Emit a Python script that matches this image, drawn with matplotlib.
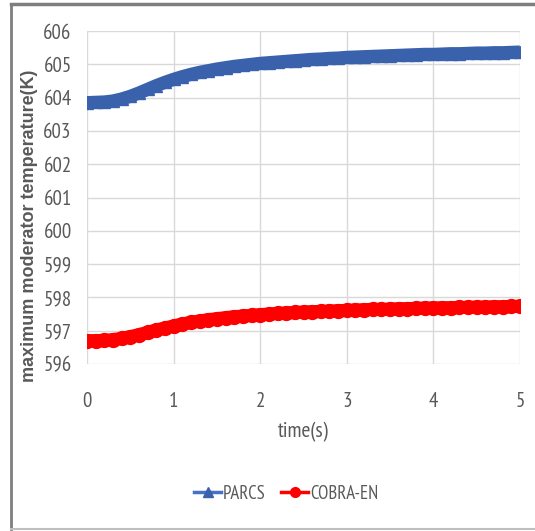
import numpy as np
import matplotlib.pyplot as plt
from matplotlib.lines import Line2D

# time axis (s)
time = [0.0, 0.1, 0.2, 0.3, 0.4, 0.5, 0.6, 0.7, 0.8, 0.9,
        1.0, 1.1, 1.2, 1.3, 1.4, 1.5, 1.6, 1.7, 1.8, 1.9,
        2.0, 2.1, 2.2, 2.3, 2.4, 2.5, 2.6, 2.7, 2.8, 2.9,
        3.0, 3.1, 3.2, 3.3, 3.4, 3.5, 3.6, 3.7, 3.8, 3.9,
        4.0, 4.1, 4.2, 4.3, 4.4, 4.5, 4.6, 4.7, 4.8, 4.9, 5.0]

# maximum moderator temperature (K)
parcs = [603.85, 603.86, 603.87, 603.90, 603.96, 604.04, 604.14, 604.25, 604.36, 604.46,
         604.55, 604.63, 604.70, 604.76, 604.81, 604.86, 604.90, 604.94, 604.97, 605.00,
         605.03, 605.05, 605.07, 605.09, 605.11, 605.13, 605.15, 605.16, 605.18, 605.19,
         605.21, 605.22, 605.23, 605.24, 605.25, 605.26, 605.27, 605.28, 605.29, 605.30,
         605.30, 605.31, 605.32, 605.32, 605.33, 605.34, 605.34, 605.35, 605.35, 605.36, 605.37]
cobra = [596.70, 596.70, 596.71, 596.73, 596.77, 596.82, 596.88, 596.95, 597.02, 597.08,
         597.14, 597.20, 597.25, 597.29, 597.33, 597.36, 597.39, 597.42, 597.44, 597.46,
         597.48, 597.50, 597.52, 597.53, 597.55, 597.56, 597.57, 597.58, 597.59, 597.60,
         597.61, 597.62, 597.63, 597.64, 597.64, 597.65, 597.66, 597.66, 597.67, 597.68,
         597.68, 597.69, 597.69, 597.70, 597.70, 597.71, 597.71, 597.72, 597.72, 597.73, 597.73]

xticks = [0, 1, 2, 3, 4, 5]
yticks = [596, 597, 598, 599, 600, 601, 602, 603, 604, 605, 606]

narrow = ['PT Sans Narrow', 'Carlito', 'DejaVu Sans']
wide = ['Liberation Sans', 'DejaVu Sans']
gray = '#595959'

fig = plt.figure(figsize=(5.35, 5.31), dpi=100)
ax = fig.add_axes([0.1626, 0.3145, 0.8094, 0.627])

ax.plot(time, parcs, color='#3A61AC', lw=9.5, marker='^', ms=8.5,
        solid_capstyle='butt', label='PARCS', zorder=3)
ax.plot(time, cobra, color='#FF0000', lw=9.5, marker='o', ms=10,
        solid_capstyle='butt', label='COBRA-EN', zorder=3)

ax.set_xlim(0, 5)
ax.set_ylim(596, 606)
ax.set_xticks(xticks)
ax.set_yticks(yticks)
ax.grid(True, color='#D9D9D9', lw=1)
ax.set_axisbelow(True)
for s in ax.spines.values():
    s.set_visible(False)
ax.tick_params(length=0, labelsize=15, labelcolor=gray, pad=11)
ax.tick_params(axis='x', pad=20)
for lab in ax.get_xticklabels() + ax.get_yticklabels():
    lab.set_family(narrow)

ax.set_xlabel('time(s)', fontsize=15.5, color=gray, family=narrow, labelpad=8)
# y label placed directly in figure coordinates (lower than the axes centre, as in the original)
fig.text(30 / 535, 1 - 226 / 531, 'maximum moderator temperature(K)', rotation=90,
         ha='center', va='center', fontsize=13, color=gray, fontweight='bold', family=wide)

h1 = Line2D([], [], color='#4472C4', lw=2.5, marker='^', ms=7,
            markeredgecolor='#3A61AC', markerfacecolor='#3A61AC')
h2 = Line2D([], [], color='#FF0000', lw=2.5, marker='o', ms=7)
fig.legend([h1, h2], ['PARCS', 'COBRA-EN'], loc='center', bbox_to_anchor=(0.535, 0.07),
           ncol=2, frameon=False, handlelength=1.45, handletextpad=0.1, columnspacing=0.8,
           prop={'family': narrow, 'size': 13.5}, labelcolor=gray)

# outer chart frame
fig.add_artist(Line2D([0.0206, 0.0206], [0.003, 0.993], transform=fig.transFigure, color='#7F7F7F', lw=2))
fig.add_artist(Line2D([0.0206, 1.0], [0.993, 0.993], transform=fig.transFigure, color='#7F7F7F', lw=2.5))
fig.add_artist(Line2D([0.0206, 1.0], [0.003, 0.003], transform=fig.transFigure, color='#BFBFBF', lw=1.5))

plt.savefig('out.png', dpi=100)
plt.close()
